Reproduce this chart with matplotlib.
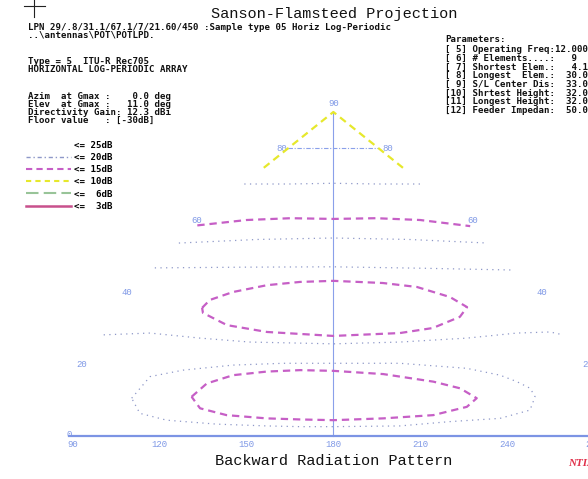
import numpy as np
import matplotlib
matplotlib.use("Agg")
import matplotlib.pyplot as plt
from matplotlib.lines import Line2D

# ---------------- data (azimuth deg, elevation deg) ----------------
# 15 dB contours
c15_top_az = [90, 120, 150, 180, 210, 240, 270]
c15_top_el = [58.5, 60.0, 60.5, 60.3, 60.5, 60.0, 58.3]

c15_mid_az = [124.2, 126.0, 134.7, 149.2, 164.3, 180, 203.2, 218.5, 231.6, 237.0,
              232.2, 219.7, 206.2, 180, 153.8, 137.2, 125.5, 124.2]
c15_mid_el = [35.6, 37.8, 40.0, 41.9, 42.8, 43.1, 42.5, 41.4, 38.6, 35.8,
              33.1, 30.0, 28.6, 27.8, 28.9, 30.8, 34.2, 35.6]

c15_low_az = [130.1, 134.8, 143.8, 155.8, 167.9, 180, 198.1, 215.8, 225.0, 230.4,
              226.6, 214.7, 197.3, 180, 168.5, 156.8, 142.9, 133.5, 130.1]
c15_low_el = [10.9, 14.6, 16.9, 17.9, 18.3, 18.1, 17.2, 15.1, 13.25, 10.5,
              8.1, 5.8, 4.9, 4.4, 4.6, 4.9, 5.8, 7.7, 10.9]

# 20 dB contours
c20_a_az = [90, 135, 180, 225, 270]
c20_a_el = [70.0, 70.0, 70.2, 70.0, 70.0]

c20_b_az = [90, 135, 180, 225, 270]
c20_b_el = [53.6, 54.6, 55.0, 54.6, 53.6]

c20_c_az = [90, 135, 180, 225, 270]
c20_c_el = [46.7, 46.9, 47.0, 46.6, 46.1]

c20_d_az = [90, 107.8, 128.1, 147.9, 180, 205.6, 232.0, 252.3, 265.6, 270]
c20_d_el = [28.1, 28.6, 27.2, 26.1, 25.6, 26.1, 27.2, 28.6, 28.9, 28.1]

c20_e_az = [109.1, 113.9, 125.3, 143.2, 161.6, 180, 204.5, 228.7, 240.2, 245.7, 249.9, 251.0,
            248.5, 237.8, 220.4, 203.0, 180, 168.5, 157.0, 139.6, 122.2, 112.7, 109.1]
c20_e_el = [10.5, 16.5, 18.3, 19.7, 20.2, 20.2, 20.2, 18.8, 16.9, 15.1, 13.25, 10.9,
            7.2, 4.9, 4.0, 2.8, 2.6, 2.6, 2.8, 3.3, 4.4, 6.3, 10.5]

# 10 dB contour
c10_az = [90, 90, 270, 270]
c10_el = [74.5, 90, 90, 74.5]

x_ticks = [90, 120, 150, 180, 210, 240, 270]
el_ticks = [20, 40, 60, 80]

legend_labels = ["<= 25dB", "<= 20dB", "<= 15dB", "<= 10dB", "<=  6dB", "<=  3dB"]

left_lines = [
    "LPN 29/.8/31.1/67.1/7/21.60/450 :Sample type 05 Horiz Log-Periodic",
    "..\\antennas\\POT\\POTLPD.",
    "Type = 5  ITU-R Rec705",
    "HORIZONTAL LOG-PERIODIC ARRAY",
    "Azim  at Gmax :    0.0 deg",
    "Elev  at Gmax :   11.0 deg",
    "Directivity Gain: 12.3 dBi",
    "Floor value   : [-30dB]",
]
left_y = [27.0, 35.0, 61, 69.0, 97, 104.8, 112.6, 120.4]

param_lines = [
    "Parameters:",
    "[ 5] Operating Freq:12.000",
    "[ 6] # Elements....:   9",
    "[ 7] Shortest Elem.:   4.1",
    "[ 8] Longest  Elem.:  30.0",
    "[ 9] S/L Center Dis:  33.0",
    "[10] Shrtest Height:  32.0",
    "[11] Longest Height:  32.0",
    "[12] Feeder Impedan:  50.0",
]
param_y = [40, 49.5, 58.2, 66.9, 75.6, 84.3, 93.0, 101.7, 110.4]

# ---------------- figure ----------------
W, H = 588, 479
fig = plt.figure(figsize=(W / 100, H / 100), dpi=100)
fig.patch.set_facecolor("white")
ax = fig.add_axes([0, 0, 1, 1])
ax.set_xlim(64.77, 268.02)
ax.set_ylim(-11.94, 121.11)
ax.axis("off")


def proj(az, el):
    az = np.asarray(az, float)
    el = np.asarray(el, float)
    return 180 + (az - 180) * np.cos(np.radians(el)), el


BLUE = "#8aa0ea"
MAG = "#c65fc6"
DOT = "#8e98c8"
YEL = "#e6e82c"

# grid / axes
ax.plot(*proj([180, 180], [0, 90]), color=BLUE, lw=0.8, zorder=1)
ax.plot(*proj([90, 270], [80, 80]), color=BLUE, lw=0.8, ls=(0, (4, 1.5, 1, 1.5)), zorder=1)
ax.plot([88.5, 270], [0, 0], color="#7c94e4", lw=1.6, zorder=2)

# contours
for a, e in [(c20_a_az, c20_a_el), (c20_b_az, c20_b_el), (c20_c_az, c20_c_el),
             (c20_d_az, c20_d_el), (c20_e_az, c20_e_el)]:
    ax.plot(*proj(a, e), color=DOT, lw=0.9, ls=(0, (1, 3.5)), zorder=3)
for a, e in [(c15_top_az, c15_top_el), (c15_mid_az, c15_mid_el), (c15_low_az, c15_low_el)]:
    ax.plot(*proj(a, e), color=MAG, lw=1.6, ls=(0, (3.3, 2.2)), zorder=4)
ax.plot(*proj(c10_az, c10_el), color=YEL, lw=1.6, ls=(0, (3.3, 2.2)), zorder=4)

# tick labels
tfont = dict(family="Liberation Mono", size=6.5, color="#7f98e6")
for t in x_ticks:
    ax.text(t, -1.2, str(t), ha="center", va="top", **tfont)
ax.text(89.5, 0.3, "0", ha="right", va="center", **tfont)
for e in el_ticks:
    xl, _ = proj([90], [e])
    xr, _ = proj([270], [e])
    ax.annotate(str(e), (xl[0], e), xytext=(-1, 0), textcoords="offset points",
                ha="right", va="center", **tfont)
    ax.annotate(str(e), (xr[0], e), xytext=(3, 0), textcoords="offset points",
                ha="left", va="center", **tfont)
ax.annotate("90", (180, 90), xytext=(0, 3), textcoords="offset points",
            ha="center", va="bottom", **tfont)

# legend
handles = [
    Line2D([], [], color="white", lw=1),
    Line2D([], [], color=DOT, lw=1.0, ls=(0, (3, 2, 1, 2))),
    Line2D([], [], color=MAG, lw=1.5, ls=(0, (3, 2))),
    Line2D([], [], color=YEL, lw=1.5, ls=(0, (2.5, 2))),
    Line2D([], [], color="#98c498", lw=1.5, ls=(0, (6, 2.5))),
    Line2D([], [], color="#c8508c", lw=1.8),
]
leg = ax.legend(handles, legend_labels, loc="upper left",
                bbox_to_anchor=(26 / W, 1 - 140.5 / H), bbox_transform=fig.transFigure,
                frameon=False, handlelength=4.9, handletextpad=0.35, labelspacing=0.36,
                borderpad=0, borderaxespad=0,
                prop=dict(family="DejaVu Sans Mono", weight="bold", size=6.6))

# texts
sfont = dict(family="DejaVu Sans Mono", weight="bold", size=6.6, color="#111111")
for s, y in zip(left_lines, left_y):
    fig.text(28 / W, 1 - y / H, s, ha="left", va="center", **sfont)
for s, y in zip(param_lines, param_y):
    fig.text(445 / W, 1 - y / H, s, ha="left", va="center", **sfont)

fig.text(334 / W, 1 - 14 / H, "Sanson-Flamsteed Projection", ha="center", va="center",
         family="Liberation Mono", size=11, color="#111111")
fig.text(334 / W, 1 - 461 / H, "Backward Radiation Pattern", ha="center", va="center",
         family="Liberation Mono", size=11, color="#111111")
fig.text(568 / W, 1 - 463 / H, "NTIA", ha="left", va="center", family="Liberation Serif",
         style="italic", weight="bold", size=8, color="#e0304a")

# crosshair mark
fig.add_artist(Line2D([24 / W, 45 / W], [1 - 6 / H, 1 - 6 / H], color="#222222", lw=0.8))
fig.add_artist(Line2D([34 / W, 34 / W], [1, 1 - 17 / H], color="#222222", lw=0.8))

fig.savefig("out.png", dpi=100, facecolor="white")
